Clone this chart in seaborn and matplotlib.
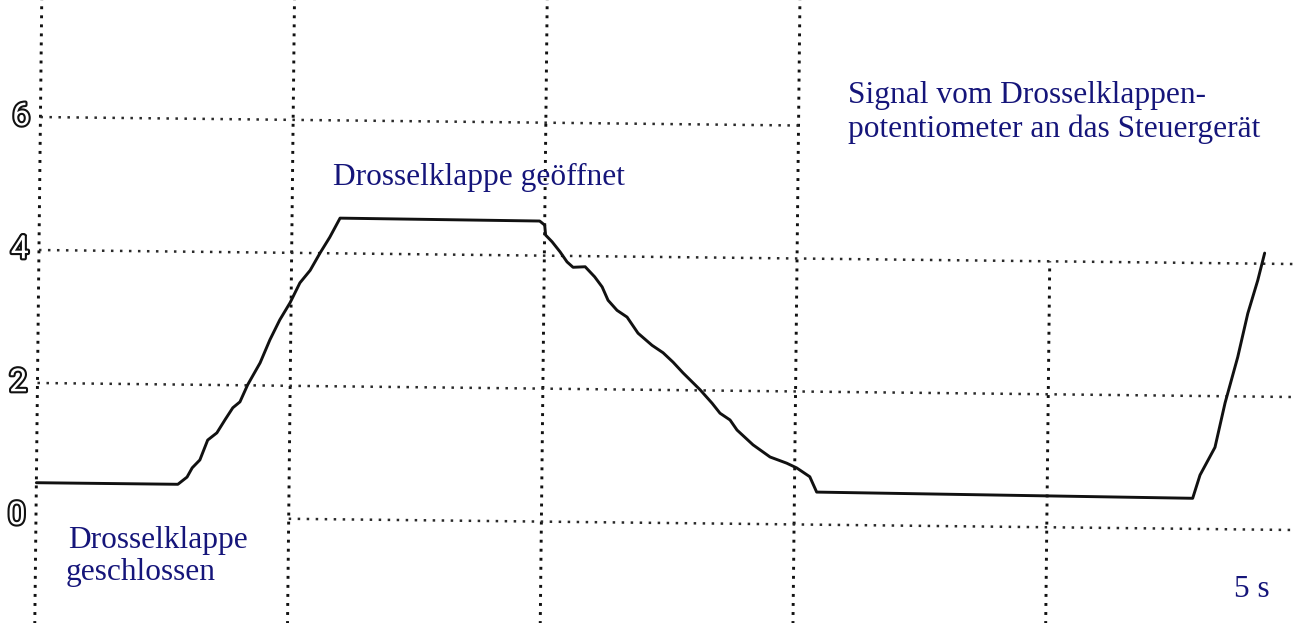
import matplotlib
matplotlib.use("Agg")
import matplotlib.pyplot as plt
import matplotlib.transforms as mtransforms
import matplotlib.patheffects as pe
import numpy as np
import pandas as pd
import seaborn as sns

# Throttle-position sensor trace (time in s, signal in V)
time_s = [0.00, 2.80, 2.98, 3.08, 3.23, 3.38, 3.56, 3.72, 3.87, 4.01,
          4.16, 4.40, 4.59, 4.78, 4.98, 5.17, 5.37, 5.56, 5.75, 5.95,
          9.90, 10.00, 10.02, 10.15, 10.31, 10.45, 10.57, 10.81, 11.00, 11.15,
          11.27, 11.45, 11.65, 11.87, 12.15, 12.37, 12.57, 12.77, 13.11, 13.35,
          13.51, 13.71, 13.85, 14.17, 14.51, 14.84, 15.04, 15.30, 15.44, 22.88,
          23.02, 23.31, 23.50, 23.74, 23.93, 24.12, 24.25]
signal_v = [0.50, 0.50, 0.61, 0.75, 0.87, 1.17, 1.28, 1.48, 1.66, 1.75,
            2.01, 2.34, 2.69, 2.99, 3.25, 3.55, 3.74, 4.00, 4.24, 4.53,
            4.52, 4.46, 4.31, 4.21, 4.06, 3.91, 3.83, 3.84, 3.69, 3.54,
            3.34, 3.19, 3.09, 2.85, 2.67, 2.56, 2.42, 2.26, 2.01, 1.81,
            1.66, 1.56, 1.41, 1.19, 1.01, 0.92, 0.85, 0.72, 0.49, 0.46,
            0.81, 1.23, 1.90, 2.59, 3.25, 3.75, 4.16]

# Screen divisions
volt_ticks = [0, 2, 4, 6]
volt_labels = ["0", "2", "4", "6"]
time_divs = [0, 5, 10, 15, 20]

ink = "#15157a"

sns.set_theme(style="white")
plt.rcParams["font.family"] = ["Liberation Serif", "DejaVu Serif"]

fig = plt.figure(figsize=(12.95, 6.23), dpi=100)
ax = fig.add_axes([0, 0, 1, 1])

# the printout sits slightly skewed on the page
skew = ax.transData + mtransforms.Affine2D().rotate_deg_around(36, 107, -0.64)

# vertical division lines
vdots = dict(color="#111111", lw=2.1, linestyle=(0, (1, 2.1)), transform=skew)
for t in time_divs:
    hi = 4 if t == 20 else 8.5
    ax.plot([t, t], [-2.5, hi], **vdots)

# horizontal division lines
hdots = dict(color="#2a2a2a", lw=1.8, linestyle=(0, (1, 2.6)), transform=skew)
for v in volt_ticks:
    start = 5 if v == 0 else 0
    stop = 15 if v == 6 else 26
    ax.plot([start, stop], [v, v], **hdots)

# signal trace
df = pd.DataFrame({"t": time_s, "u": signal_v})
sns.lineplot(data=df, x="t", y="u", ax=ax, color="#111111", lw=2.1,
             estimator=None, sort=False, transform=skew)
ax.set_xlim(-0.712, 24.91)
ax.set_ylim(-1.61, 7.76)
ax.set_axis_off()

# hollow scale digits
for v, lab in zip(volt_ticks, volt_labels):
    ax.text(-0.38, v, lab, transform=skew, ha="center", va="center",
            fontsize=23, family="Roboto", color="white",
            path_effects=[pe.Stroke(linewidth=3.0, foreground="#111111"), pe.Normal()])

# annotations
tkw = dict(transform=skew, ha="left", va="baseline", fontsize=22.6, color=ink)
ax.text(5.80, 5.03, "Drosselklappe geöffnet", **tkw)
ax.text(15.97, 6.35, "Signal vom Drosselklappen-", **tkw)
ax.text(15.98, 5.83, "potentiometer an das Steuergerät", **tkw)
ax.text(0.64, -0.475, "Drosselklappe", **tkw)
ax.text(0.61, -0.96, "geschlossen", **tkw)
ax.text(23.72, -1.02, "5 s", **tkw)

fig.savefig("out.png", dpi=100, facecolor="white")
